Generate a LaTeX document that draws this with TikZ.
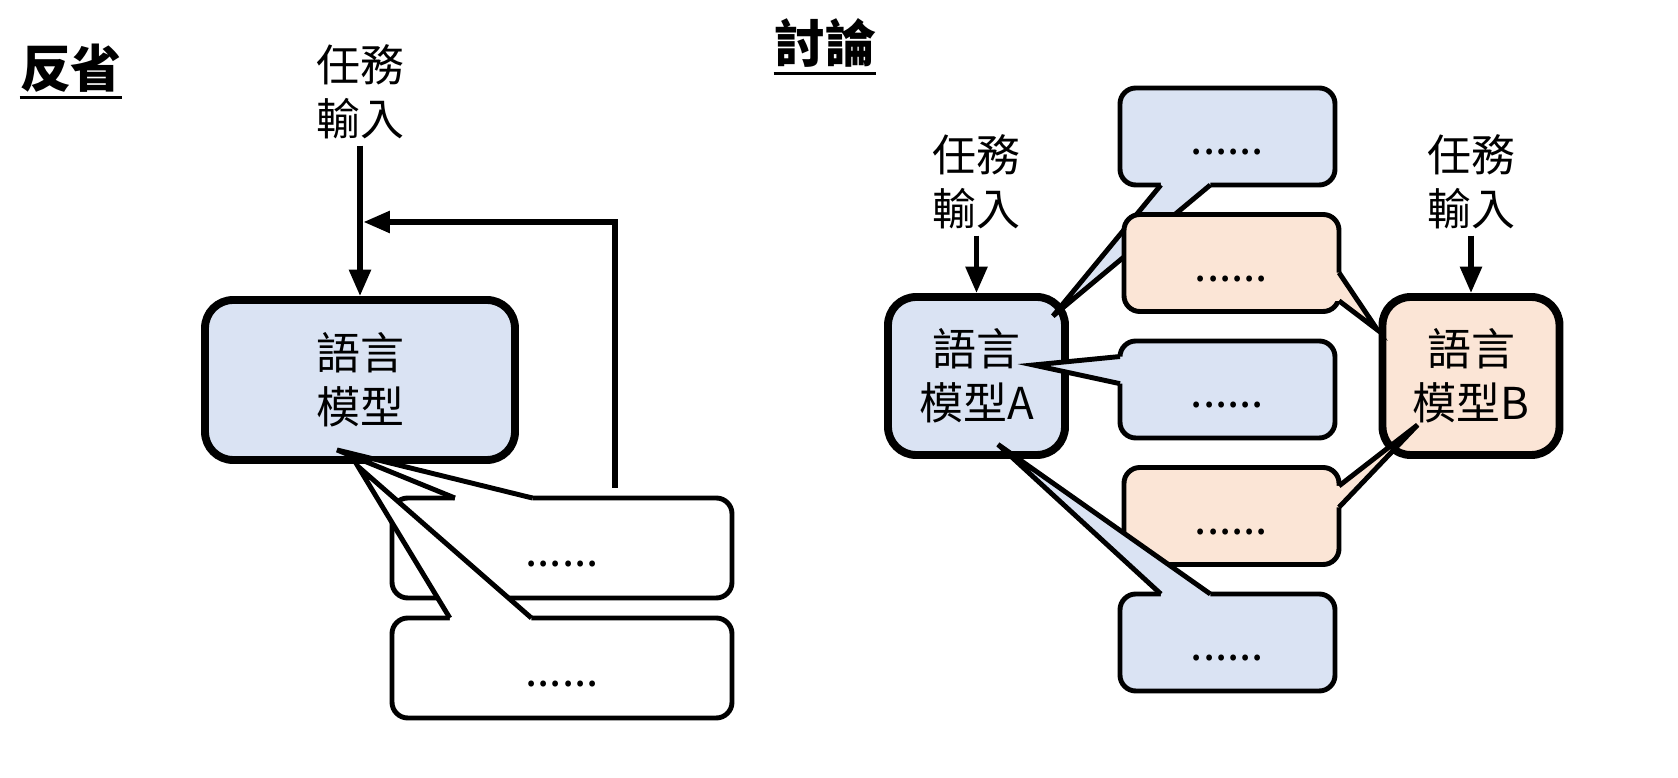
\documentclass[tikz,border=0pt]{standalone}
\usepackage{fontspec}
\setmainfont{Noto Sans CJK TC}
\definecolor{lmblue}{RGB}{218, 227, 243}
\definecolor{lmpeach}{RGB}{251, 229, 214}
\usetikzlibrary{arrows.meta, positioning, calc}
\tikzset{
    modelbox/.style={
        rectangle,
        draw=black,
        line width=4.5pt,
        rounded corners=16pt,
        minimum width=3.54cm,
        minimum height=3.16cm,
        align=center,
        font=\fontsize{25}{31}\selectfont
    },
    bubblebox/.style={
        rectangle,
        draw=black,
        line width=2.8pt,
        rounded corners=9pt,
        outer sep=0pt,
        minimum width=4.3cm,
        minimum height=1.94cm,
        text height=23pt,
        text depth=2pt,
        font=\fontsize{25}{31}\selectfont
    },
    labeltext/.style={align=center, font=\fontsize{25}{31}\selectfont},
    titletext/.style={inner sep=0pt, font=\fontsize{29}{34}\selectfont\bfseries},
    arrowstyle/.style={-{Triangle[length=15pt,width=12pt]}, line width=3pt},
    tailline/.style={line width=2.8pt}
}
% speech bubble tail: fill, corner from, corner to, two fractions, tip
\newcommand{\speechtail}[6]{%
    \coordinate (ta) at ($#2!#4!#3$);
    \coordinate (tb) at ($#2!#5!#3$);
    \fill[#1] ($(ta)!3pt!90:(tb)$) -- (ta) -- #6 -- (tb) -- ($(tb)!3pt!-90:(ta)$) -- cycle;
    \draw[tailline] (ta) -- #6 -- (tb);
}

\begin{document}
\begin{tikzpicture}
    \useasboundingbox (0,0) rectangle (33.56,15.56);

    % 反省
    \node[titletext] (refl) at (1.42,14.20) {反省};
    \draw[line width=1.7pt] ([yshift=-3pt]refl.south west) -- ([yshift=-3pt]refl.south east);
    \node[labeltext] (task) at (7.20,13.72) {任務\\輸入};
    \node[modelbox, fill=lmblue, minimum width=6.2cm, minimum height=3.2cm] (lm) at (7.20,7.96) {語言\\模型};
    \coordinate (join) at (7.27,11.12);
    \coordinate (back) at (12.30,5.80);
    \draw[arrowstyle] (task) -- (lm);
    \draw[arrowstyle] (back) |- (join);
    \node[bubblebox, fill=white, minimum width=6.8cm, minimum height=2cm] (reply1) at (11.24,4.60) {......};
    \speechtail{white}{(reply1.north east)}{(reply1.north west)}{0.587}{0.815}{($(lm.south)+(-0.46,0.28)$)}
    \node[bubblebox, fill=white, minimum width=6.8cm, minimum height=2cm] (reply2) at (11.24,2.20) {......};
    \speechtail{white}{(reply2.north east)}{(reply2.north west)}{0.59}{0.83}{($(lm.south)+(-0.04,-0.05)$)}

    % 討論
    \node[titletext] (disc) at (16.50,14.70) {討論};
    \draw[line width=1.7pt] ([yshift=-3pt]disc.south west) -- ([yshift=-3pt]disc.south east);
    \node[modelbox, fill=lmblue] (lmA) at (19.53,8.04) {語言\\模型A};
    \node[modelbox, fill=lmpeach] (lmB) at (29.42,8.04) {語言\\模型B};
    \node[labeltext] (taskA) at (19.53,11.92) {任務\\輸入};
    \node[labeltext] (taskB) at (29.42,11.92) {任務\\輸入};
    \draw[arrowstyle] (taskA) -- (lmA);
    \draw[arrowstyle] (taskB) -- (lmB);

    \node[bubblebox, fill=lmblue] (msg1) at (24.55,12.83) {......};
    \speechtail{lmblue}{(msg1.south west)}{(msg1.south east)}{0.19}{0.42}{($(lmA.north east)+(-0.32,-0.46)$)}
    \node[bubblebox, fill=lmpeach] (msg2) at (24.63,10.30) {......};
    \speechtail{lmpeach}{(msg2.south east)}{(msg2.north east)}{0.11}{0.40}{($(lmB.north west)+(-0.02,-0.74)$)}
    \node[bubblebox, fill=lmblue] (msg3) at (24.55,7.77) {......};
    \speechtail{lmblue}{(msg3.north west)}{(msg3.south west)}{0.16}{0.44}{($(lmA.east)+(-0.71,0.22)$)}
    \node[bubblebox, fill=lmpeach] (msg4) at (24.63,5.24) {......};
    \speechtail{lmpeach}{(msg4.south east)}{(msg4.north east)}{0.59}{0.81}{($(lmB.south west)+(0.78,0.68)$)}
    \node[bubblebox, fill=lmblue] (msg5) at (24.55,2.71) {......};
    \speechtail{lmblue}{(msg5.north east)}{(msg5.north west)}{0.58}{0.81}{($(lmA.south)+(0.43,0.29)$)}
\end{tikzpicture}
\end{document}
